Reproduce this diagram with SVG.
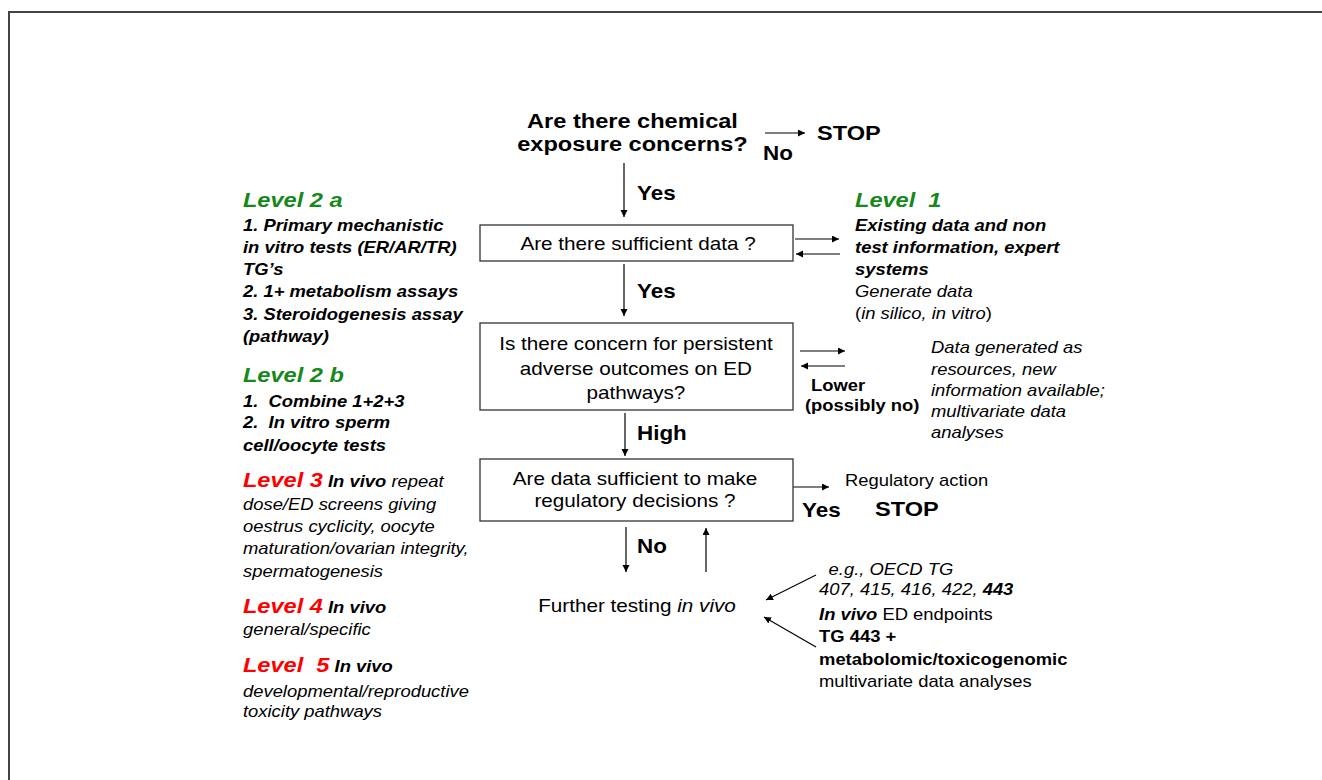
<svg xmlns="http://www.w3.org/2000/svg" width="1322" height="780" viewBox="0 0 1322 780">
<style>
text{font-family:"Liberation Sans",Arial,sans-serif;fill:#000}
.b{font-weight:bold}
.i{font-style:italic}
.bi{font-weight:bold;font-style:italic}
.s16{font-size:16px}
.s18{font-size:18px}
.s20{font-size:19.5px}
.big{font-size:20.5px}
.grn{fill:#17881a}
.red{fill:#ff0000}
.box{fill:#fff;stroke:#333;stroke-width:1.3}
.c{stroke:#000;stroke-width:1.2;fill:none;marker-end:url(#ah)}
.mid{text-anchor:middle}
</style>
<defs>
<marker id="ah" markerUnits="userSpaceOnUse" markerWidth="8" markerHeight="8" refX="7" refY="3.5" orient="auto">
<path d="M0,0 L7,3.5 L0,7 z" fill="#000"/>
</marker>
</defs>
<rect x="0" y="0" width="1322" height="780" fill="#fff"/>
<path d="M9,780 V12 H1322" fill="none" stroke="#444" stroke-width="2"/>

<g id="connectors">
<line class="c" x1="765" y1="133" x2="805" y2="133"/>
<line class="c" x1="624" y1="163" x2="624" y2="217"/>
<line class="c" x1="795" y1="239" x2="839" y2="239"/>
<line class="c" x1="840" y1="254" x2="796" y2="254"/>
<line class="c" x1="624" y1="264" x2="624" y2="316"/>
<line class="c" x1="800" y1="351" x2="845" y2="351"/>
<line class="c" x1="845" y1="366" x2="801" y2="366"/>
<line class="c" x1="625" y1="413" x2="625" y2="456"/>
<line class="c" x1="793" y1="487" x2="829" y2="487"/>
<line class="c" x1="626" y1="527" x2="626" y2="572"/>
<line class="c" x1="706" y1="572" x2="706" y2="528"/>
<line class="c" x1="816" y1="575" x2="766" y2="600"/>
<line class="c" x1="816" y1="647" x2="764" y2="617"/>
</g>

<g id="box-sufficient">
<rect class="box" x="480" y="225" width="313" height="36"/>
</g>
<g id="box-concern">
<rect class="box" x="480" y="323" width="313" height="87"/>
</g>
<g id="box-regulatory">
<rect class="box" x="480" y="459" width="313" height="62"/>
</g>

<g transform="scale(1.15 1)">
<g id="start">
<text class="b big mid" x="550" y="128">Are there chemical</text>
<text class="b big mid" x="550" y="151">exposure concerns?</text>
</g>
<g id="stop1">
<text class="b big" x="710.4" y="140">STOP</text>
</g>
<g id="labels">
<text class="b s20" x="663.5" y="160">No</text>
<text class="b s20" x="553.9" y="200">Yes</text>
<text class="b s20" x="553.9" y="298">Yes</text>
<text class="b s20" x="553.9" y="440">High</text>
<text class="b s20" x="697.4" y="517">Yes</text>
<text class="b s20" x="553.9" y="553">No</text>
<text class="b s16" x="705.2" y="391">Lower</text>
<text class="b s16" x="700" y="411">(possibly no)</text>
</g>
<g id="box-sufficient-text">
<text class="s18 mid" x="554.8" y="250">Are there sufficient data ?</text>
</g>
<g id="box-concern-text">
<text class="s18 mid" x="553" y="350">Is there concern for persistent</text>
<text class="s18 mid" x="553" y="375">adverse outcomes on ED</text>
<text class="s18 mid" x="553" y="399">pathways?</text>
</g>
<g id="box-regulatory-text">
<text class="s18 mid" x="552.2" y="485">Are data sufficient to make</text>
<text class="s18 mid" x="552.2" y="507">regulatory decisions ?</text>
</g>
<g id="regulatory-stop">
<text class="s16" x="734.8" y="486">Regulatory action</text>
<text class="b big" x="760.9" y="516">STOP</text>
</g>
<g id="further-testing">
<text class="s18 mid" x="553.9" y="612">Further testing <tspan class="i">in vivo</tspan></text>
</g>
<g id="level1">
<text class="bi big grn" x="743.5" y="207" xml:space="preserve">Level  1</text>
<text class="bi s16" x="743.5" y="231">Existing data and non</text>
<text class="bi s16" x="743.5" y="253">test information, expert</text>
<text class="bi s16" x="743.5" y="275">systems</text>
<text class="i s16" x="743.5" y="297">Generate data</text>
<text class="s16" x="743.5" y="319">(<tspan class="i">in silico, in vitro</tspan>)</text>
</g>
<g id="data-generated">
<text class="i s16" x="809.6" y="353">Data generated as</text>
<text class="i s16" x="809.6" y="375">resources, new</text>
<text class="i s16" x="809.6" y="396">information available;</text>
<text class="i s16" x="809.6" y="417">multivariate data</text>
<text class="i s16" x="809.6" y="438">analyses</text>
</g>
<g id="oecd">
<text class="i s16" x="720.5" y="575">e.g., OECD TG</text>
<text class="i s16" x="712.2" y="595">407, 415, 416, 422, <tspan class="b">443</tspan></text>
<text class="s16" x="712.2" y="620"><tspan class="bi">In vivo</tspan> ED endpoints</text>
<text class="b s16" x="712.2" y="642">TG 443 +</text>
<text class="b s16" x="712.2" y="665">metabolomic/toxicogenomic</text>
<text class="s16" x="712.2" y="687">multivariate data analyses</text>
</g>
<g id="level2a">
<text class="bi big grn" x="211.3" y="207">Level 2 a</text>
<text class="bi s16" x="211.3" y="231">1. Primary mechanistic</text>
<text class="bi s16" x="211.3" y="253">in vitro tests (ER/AR/TR)</text>
<text class="bi s16" x="211.3" y="275">TG’s</text>
<text class="bi s16" x="211.3" y="297">2. 1+ metabolism assays</text>
<text class="bi s16" x="211.3" y="320">3. Steroidogenesis assay</text>
<text class="bi s16" x="211.3" y="342">(pathway)</text>
</g>
<g id="level2b">
<text class="bi big grn" x="211.3" y="382">Level 2 b</text>
<text class="bi s16" x="211.3" y="407" xml:space="preserve">1.  Combine 1+2+3</text>
<text class="bi s16" x="211.3" y="428" xml:space="preserve">2.  In vitro sperm</text>
<text class="bi s16" x="211.3" y="451">cell/oocyte tests</text>
</g>
<g id="level3">
<text class="i s16" x="211.3" y="487" xml:space="preserve"><tspan class="bi big red">Level 3</tspan> <tspan class="bi">In vivo</tspan> repeat</text>
<text class="i s16" x="211.3" y="510">dose/ED screens giving</text>
<text class="i s16" x="211.3" y="532">oestrus cyclicity, oocyte</text>
<text class="i s16" x="211.3" y="554">maturation/ovarian integrity,</text>
<text class="i s16" x="211.3" y="577">spermatogenesis</text>
</g>
<g id="level4">
<text class="i s16" x="211.3" y="613" xml:space="preserve"><tspan class="bi big red">Level 4</tspan> <tspan class="bi">In vivo</tspan></text>
<text class="i s16" x="211.3" y="635">general/specific</text>
</g>
<g id="level5">
<text class="i s16" x="211.3" y="672" xml:space="preserve"><tspan class="bi big red">Level  5</tspan> <tspan class="bi">In vivo</tspan></text>
<text class="i s16" x="211.3" y="697">developmental/reproductive</text>
<text class="i s16" x="211.3" y="717">toxicity pathways</text>
</g>
</g>
</svg>
